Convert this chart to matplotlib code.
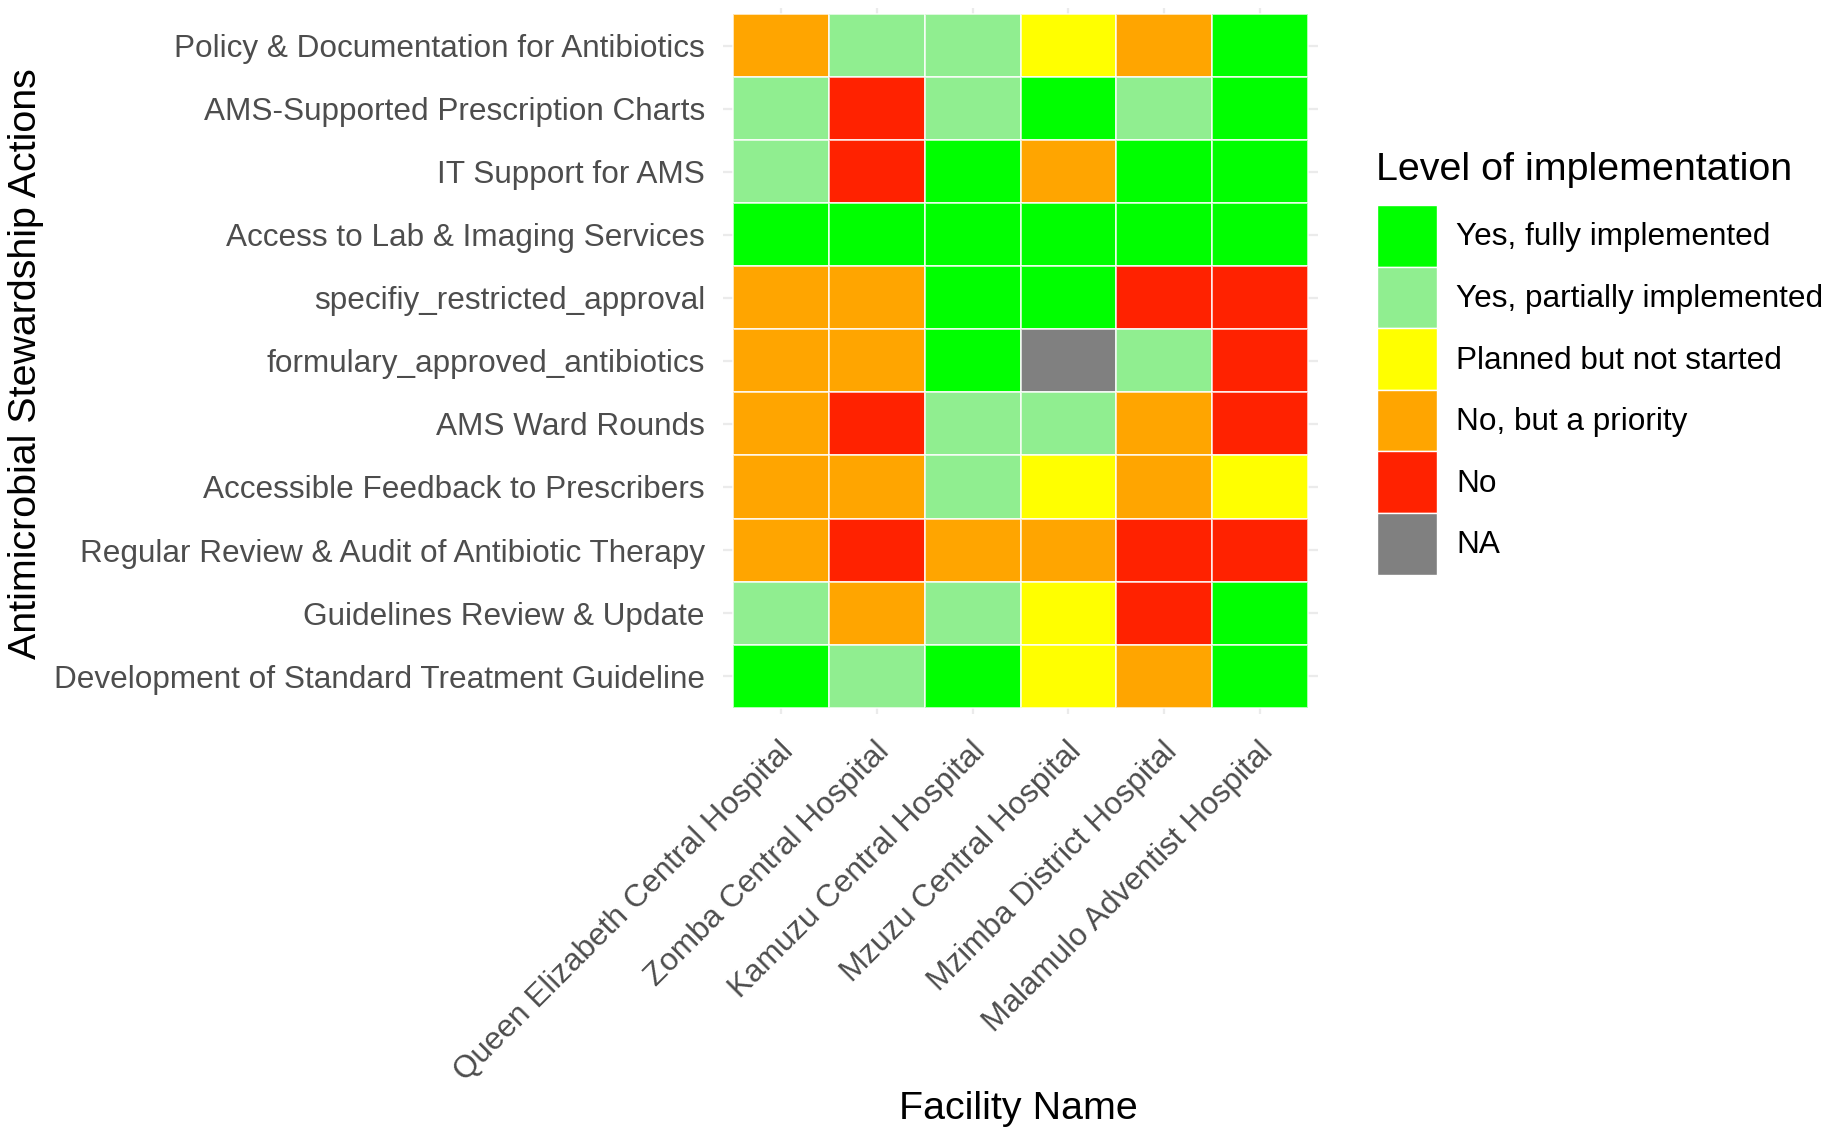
import matplotlib
matplotlib.use("Agg")
import matplotlib.pyplot as plt
import numpy as np
from matplotlib.colors import ListedColormap, BoundaryNorm
from matplotlib.patches import Patch
from matplotlib.transforms import ScaledTranslation

# ---- data ----
facilities = [
    "Queen Elizabeth Central Hospital",
    "Zomba Central Hospital",
    "Kamuzu Central Hospital",
    "Mzuzu Central Hospital",
    "Mzimba District Hospital",
    "Malamulo Adventist Hospital",
]

actions = [  # top to bottom
    "Policy & Documentation for Antibiotics",
    "AMS-Supported Prescription Charts",
    "IT Support for AMS",
    "Access to Lab & Imaging Services",
    "specifiy_restricted_approval",
    "formulary_approved_antibiotics",
    "AMS Ward Rounds",
    "Accessible Feedback to Prescribers",
    "Regular Review & Audit of Antibiotic Therapy",
    "Guidelines Review & Update",
    "Development of Standard Treatment Guideline",
]

levels = [
    "Yes, fully implemented",
    "Yes, partially implemented",
    "Planned but not started",
    "No, but a priority",
    "No",
    "NA",
]
level_codes = ["F", "P", "L", "O", "N", "NA"]
level_colors = ["#00FF00", "#90EE90", "#FFFF00", "#FFA500", "#FF2200", "#808080"]

# status[action][facility]
status = [
    ["O", "P", "P", "L", "O", "F"],
    ["P", "N", "P", "F", "P", "F"],
    ["P", "N", "F", "O", "F", "F"],
    ["F", "F", "F", "F", "F", "F"],
    ["O", "O", "F", "F", "N", "N"],
    ["O", "O", "F", "NA", "P", "N"],
    ["O", "N", "P", "P", "O", "N"],
    ["O", "O", "P", "L", "O", "L"],
    ["O", "N", "O", "O", "N", "N"],
    ["P", "O", "P", "L", "N", "F"],
    ["F", "P", "F", "L", "O", "F"],
]

# ---- figure ----
plt.rcParams['font.family'] = ['Liberation Sans', 'DejaVu Sans']

W, H = 1831, 1139
SMALL, BIG = 22.7, 28.4
fig = plt.figure(figsize=(W / 100, H / 100), dpi=100)
ax = fig.add_axes([723 / W, 1 - 714 / H, 595 / W, 706.3 / H])

codes = np.array([[level_codes.index(s) for s in row] for row in status])
cmap = ListedColormap(level_colors)
norm = BoundaryNorm(np.arange(-0.5, len(levels) + 0.5), cmap.N)

nx, ny = len(facilities), len(actions)
ax.pcolormesh(np.arange(nx + 1) - 0.5, np.arange(ny + 1) - 0.5, codes,
              cmap=cmap, norm=norm, edgecolors=(1, 1, 1, 0.7), linewidth=1.1)
ax.set_xlim(-0.6, nx - 0.4)
ax.set_ylim(ny - 0.4, -0.6)
ax.set_xticks(np.arange(nx), facilities)
ax.set_yticks(np.arange(ny), actions)
ax.grid(True, color='#EBEBEB', lw=1.6)
ax.set_axisbelow(True)
for s in ax.spines.values():
    s.set_visible(False)
ax.tick_params(length=0, labelsize=SMALL, labelcolor='#4D4D4D')
ax.tick_params(axis='y', pad=13)
ax.tick_params(axis='x', pad=16)
plt.setp(ax.get_xticklabels(), rotation=45, ha='right', va='top', rotation_mode='anchor')
offset = ScaledTranslation(-2 / 100, 0, fig.dpi_scale_trans)
for lab in ax.get_xticklabels():
    lab.set_transform(lab.get_transform() + offset)

# axis titles
fig.text(26 / W, 1 - 364 / H, "Antimicrobial Stewardship Actions", rotation=90,
         ha='center', va='center', fontsize=BIG, color='black')
fig.text(1018 / W, 1 - 1109 / H, "Facility Name", ha='center', va='center',
         fontsize=BIG, color='black')

# legend
handles = [Patch(facecolor=c, edgecolor='white', linewidth=1) for c in level_colors]
key_h = 44.35 / SMALL  # desired key height in font-size units
hh = (key_h - 0.245) / 0.65
fig.legend(handles=handles, labels=levels, loc='upper left',
           bbox_to_anchor=(1377 / W, 1 - 205 / H), frameon=False, borderpad=0,
           borderaxespad=0, fontsize=SMALL, handlelength=43.2 / SMALL, handleheight=hh,
           labelspacing=0, handletextpad=0.6, labelcolor='black')
fig.text(1376 / W, 1 - 170.5 / H, "Level of implementation", ha='left', va='center',
         fontsize=BIG, color='black')

fig.savefig("out.png", dpi=100)
